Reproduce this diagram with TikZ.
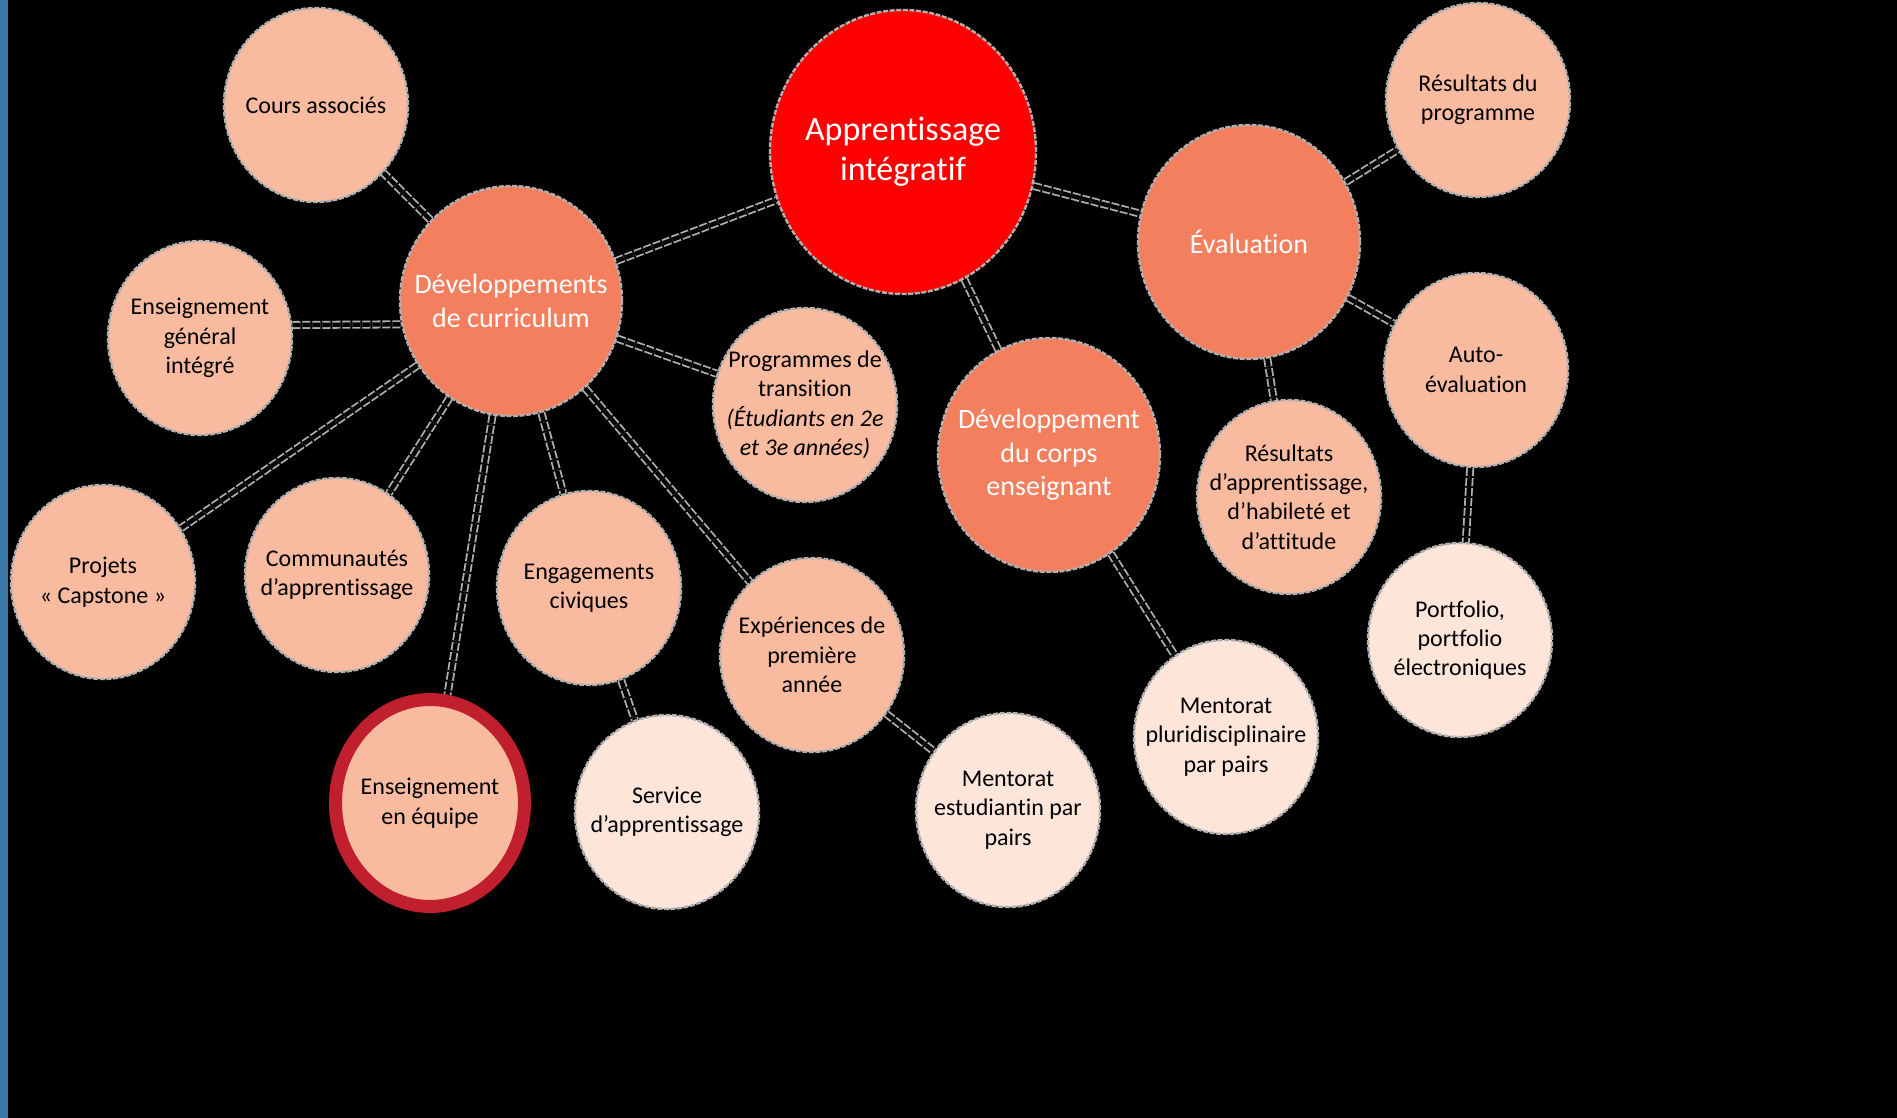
\documentclass[tikz,border=0pt]{standalone}
\usepackage{fontspec}
\setmainfont{Carlito}[Ligatures=NoCommon]
\usetikzlibrary{shapes.geometric,backgrounds}
\definecolor{barblue}{HTML}{3A78A8}
\definecolor{light}{HTML}{F9BBA0}
\definecolor{mid}{HTML}{F47F5F}
\definecolor{pale}{HTML}{FDE5DA}
\definecolor{ringred}{HTML}{C0202E}
\definecolor{border}{HTML}{B0B0B0}
\begin{document}
\begin{tikzpicture}[x=0.5pt,y=-0.5pt,
  bub/.style={ellipse, draw=border, line width=1.2pt, dash pattern=on 2.5pt off 0.8pt,
    inner sep=0pt, fill=light, minimum width=92pt, minimum height=97pt},
  midbub/.style={bub, fill=mid, minimum width=111pt, minimum height=115pt},
  palebub/.style={bub, fill=pale},
  txt/.style={font=\fontsize{12}{14.7}\selectfont, align=center, text=black, inner sep=0pt},
  wtxt/.style={font=\fontsize{14}{16.8}\selectfont, align=center, text=white, inner sep=0pt},
  link/.style={draw=border, line width=0.9pt, double=black, double distance=2.2pt,
    dash pattern=on 4pt off 1pt}]
\useasboundingbox (0,0) rectangle (1897,1118);

% central
\node[bub, fill=red, minimum width=133pt, minimum height=142pt,
  label={[wtxt, font=\fontsize{17}{20}\selectfont]center:Apprentissage\\intégratif}] (app) at (903,152) {};
\node[midbub, label={[wtxt]center:Développements\\de curriculum}] (dev) at (511,301) {};
\node[midbub, minimum height=117pt, label={[wtxt]center:Évaluation}] (eval) at (1249,242) {};
\node[midbub, minimum height=117pt, label={[wtxt]center:Développement\\du corps\\enseignant}] (dce) at (1049,455) {};

% curriculum children
\node[bub, label={[txt]center:Cours associés}] (cours) at (316,105) {};
\node[bub, label={[txt]center:Enseignement\\général\\intégré}] (egi) at (200,338) {};
\node[bub, label={[txt]center:Programmes de\\transition\\\textit{(Étudiants en 2e}\\\textit{et 3e années)}}] (prog) at (805,405) {};
\node[bub, label={[txt]center:Projets\\« Capstone »}] (caps) at (103,582) {};
\node[bub, label={[txt]center:Communautés\\d’apprentissage}] (comm) at (337,575) {};
\node[bub, label={[txt]center:Engagements\\civiques}] (civ) at (589,588) {};
\node[bub, label={[txt]center:Expériences de\\première\\année}] (exp) at (812,655) {};
\node[bub, draw=ringred, line width=6.5pt, solid, minimum width=94.5pt, minimum height=103.5pt,
  label={[txt]center:Enseignement\\en équipe}] (equipe) at (430,803) {};
\node[palebub, label={[txt]center:Service\\d’apprentissage}] (serv) at (667,812) {};
\node[palebub, label={[txt]center:Mentorat\\estudiantin par\\pairs}] (ment) at (1008,810) {};

% evaluation children
\node[bub, label={[txt]center:Résultats du\\programme}] (resprog) at (1478,100) {};
\node[bub, label={[txt]center:Auto-\\évaluation}] (auto) at (1476,370) {};
\node[bub, label={[txt]center:Résultats\\d’apprentissage,\\d’habileté et\\d’attitude}] (resapp) at (1289,497) {};
\node[palebub, label={[txt]center:Portfolio,\\portfolio\\électroniques}] (port) at (1460,640) {};
\node[palebub, label={[txt]center:Mentorat\\pluridisciplinaire\\par pairs}] (mpluri) at (1226,737) {};

\begin{scope}[on background layer]
\fill[black] (0,0) rectangle (1897,1118);
\fill[barblue] (0,0) rectangle (8,1118);
\draw[link] (dev) -- (cours);
\draw[link] (egi.8) -- (dev.192);
\draw[link] (dev) -- (app);
\draw[link] (dev) -- (prog);
\draw[link] (dev) -- (caps);
\draw[link] (dev) -- (comm);
\draw[link] (dev) -- (equipe);
\draw[link] (dev) -- (civ);
\draw[link] (dev) -- (exp);
\draw[link] (civ) -- (serv);
\draw[link] (exp) -- (ment);
\draw[link] (app) -- (eval);
\draw[link] (app) -- (dce);
\draw[link] (eval) -- (resprog);
\draw[link] (eval) -- (auto);
\draw[link] (eval) -- (resapp);
\draw[link] (auto) -- (port);
\draw[link] (dce) -- (mpluri);
\end{scope}
\end{tikzpicture}
\end{document}
